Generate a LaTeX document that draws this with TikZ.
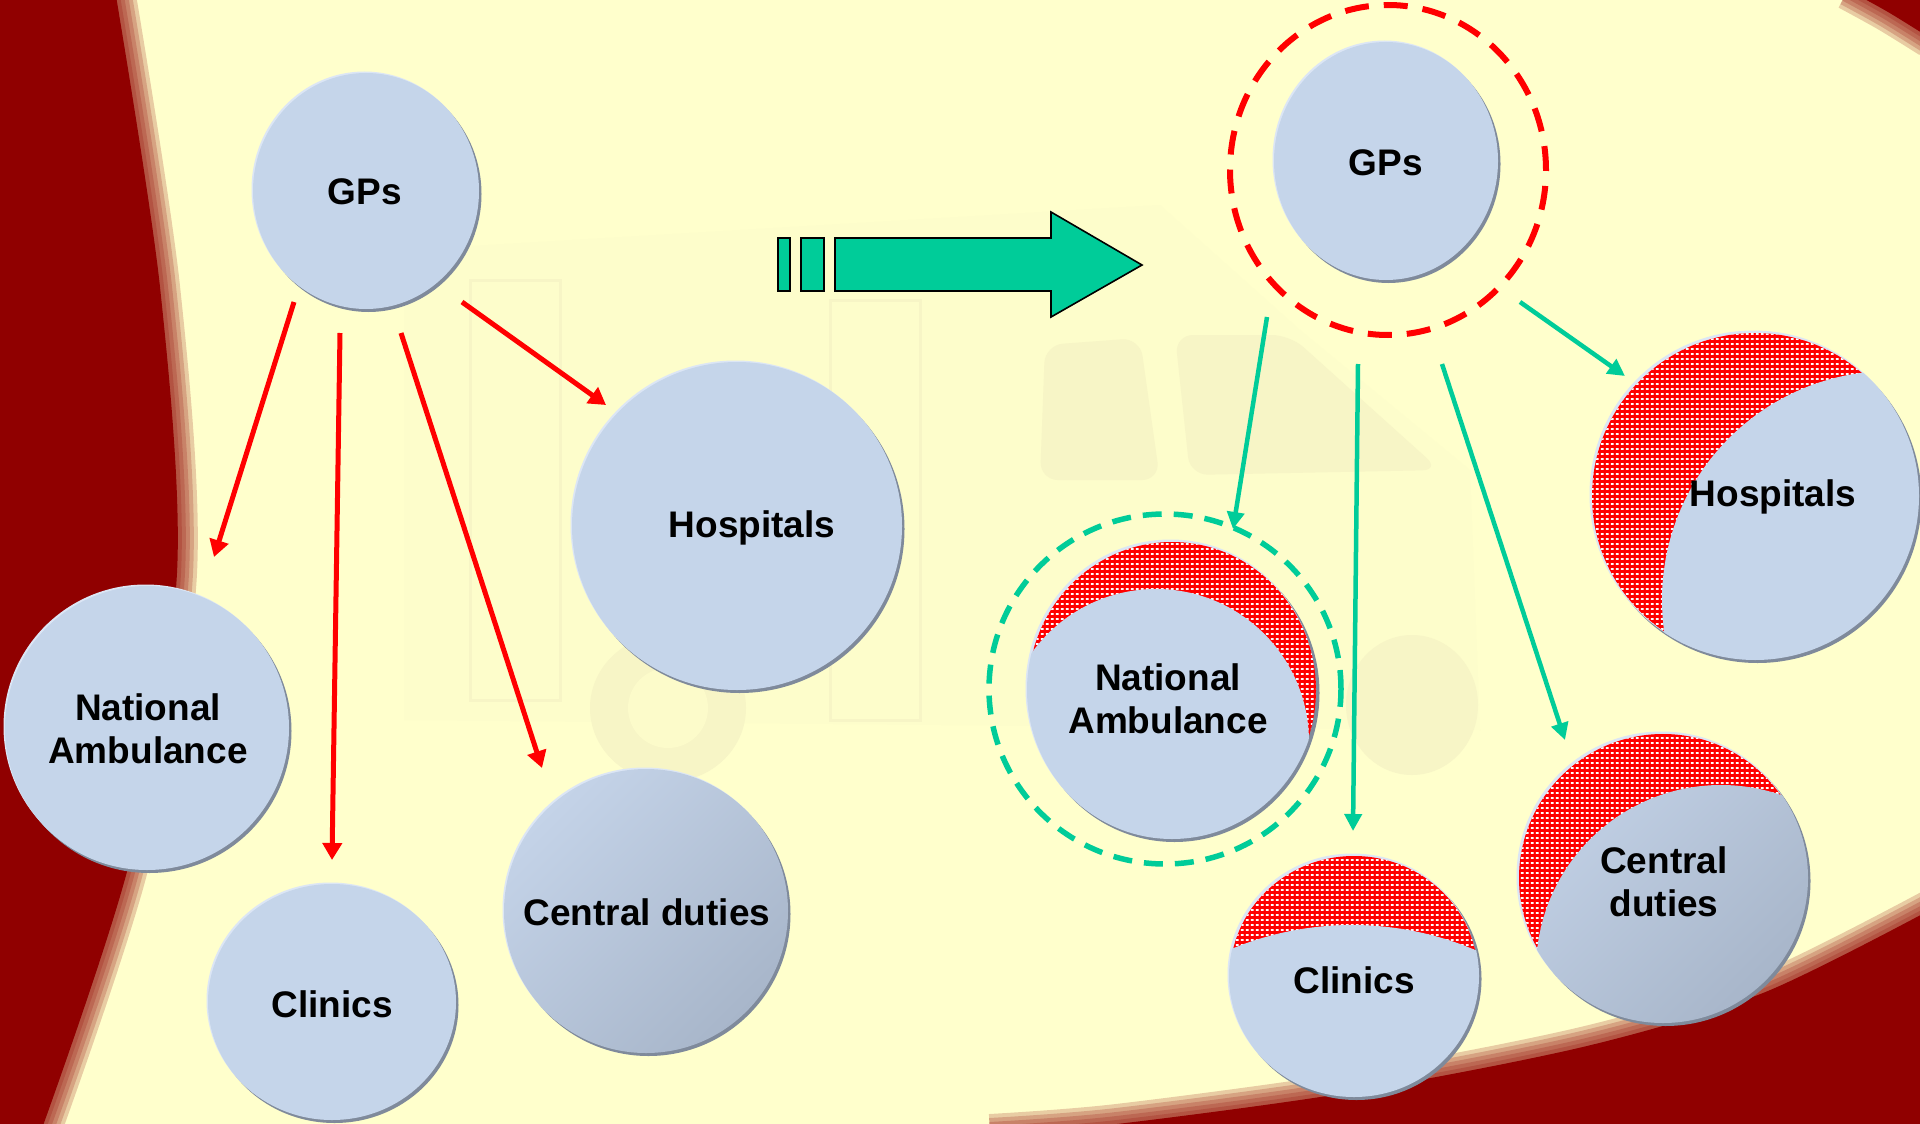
\documentclass[tikz,border=0pt]{standalone}
\usepackage{fontspec}
\setmainfont{Liberation Sans}
\usetikzlibrary{arrows.meta,patterns}
\definecolor{cream}{HTML}{FFFFCC}
\definecolor{bgred}{HTML}{900000}
\definecolor{bub}{HTML}{C5D5EA}
\definecolor{shadowc}{HTML}{7F8A9B}
\definecolor{rimc}{HTML}{DCE6F5}
\definecolor{cdlight}{HTML}{C4D3E8}
\definecolor{cddark}{HTML}{A8B6CA}
\definecolor{agreen}{HTML}{00CC99}
\definecolor{ared}{HTML}{FF0000}
\definecolor{wmark}{HTML}{F7F5C6}
\definecolor{wbody}{HTML}{FDFDCB}
\pgfdeclarepatternformonly{whitebricks}{\pgfqpoint{0pt}{0pt}}{\pgfqpoint{5pt}{4.5pt}}{\pgfqpoint{5pt}{4.5pt}}{\pgfpathrectangle{\pgfqpoint{0.9pt}{1.3pt}}{\pgfqpoint{3.3pt}{1.9pt}}\pgfusepath{fill}}
\newcommand\bubshadow[4]{\fill[shadowc,shift={(2.5,3)}] (#1,#2) ellipse [x radius=#3pt, y radius=#4pt];
  \fill[rimc,shift={(-1.5,-1.5)}] (#1,#2) ellipse [x radius=#3pt, y radius=#4pt];}
\newcommand\bubfill[4]{\fill[bub] (#1,#2) ellipse [x radius=#3pt, y radius=#4pt];}
\newcommand\blurline[1]{%
  \foreach \w in {40,32,24,16,8}{\draw[bgred,opacity=0.2,line width=\w pt] #1;}}
\begin{document}
\begin{tikzpicture}[x=1pt,y=-1pt,
  lbl/.style={font=\bfseries\fontsize{37}{43}\selectfont, align=center, text=black, inner sep=0pt},
  redarrow/.style={draw=ared, line width=5pt, -{Triangle[length=17pt,width=19pt]}},
  greenarrow/.style={draw=agreen, line width=4.5pt, -{Triangle[length=17pt,width=17pt]}},
  bigarrow/.style={fill=agreen, draw=black, line width=1.6pt, line join=miter},
  hatch/.style={fill=ared, postaction={pattern=whitebricks, pattern color=white}},
  reddash/.style={draw=ared, line width=6pt, dash pattern=on 24pt off 15pt},
  greendash/.style={draw=agreen, line width=5.5pt, dash pattern=on 19pt off 12pt}]
\useasboundingbox (0,0) rectangle (1920,1124);
\fill[cream] (0,0) rectangle (1920,1124);
% faint ambulance watermark
\fill[wbody] (404,250) -- (1160,205) -- (1300,330) -- (1470,470) -- (1480,730) -- (404,720) -- cycle;
\fill[wmark, rounded corners=18pt] (1045,345) -- (1140,338) -- (1160,480) -- (1040,480) -- cycle;
\fill[wmark, rounded corners=18pt] (1175,335) -- (1290,335) -- (1440,470) -- (1190,475) -- cycle;
\fill[wmark] (668,708) ellipse [x radius=78pt, y radius=74pt];
\fill[wmark] (1412,705) ellipse [x radius=66pt, y radius=70pt];
\fill[cream!60!wmark] (668,708) ellipse [x radius=40pt, y radius=40pt];
\draw[wmark, line width=3pt] (470,280) rectangle (560,700);
\draw[wmark, line width=3pt] (830,300) rectangle (920,720);
% dark red background areas
\fill[bgred] (0,-10) -- plot[smooth] coordinates {(115,-10) (160,287) (177,573) (130,860) (40,1134)} -- (0,1134) -- cycle;
\blurline{plot[smooth] coordinates {(115,-10) (160,287) (177,573) (130,860) (40,1134)}}
\fill[bgred] (1930,1134) -- plot[smooth] coordinates {(990,1134) (1117,1124) (1352,1092) (1587,1046) (1763,993) (1930,910)} -- cycle;
\blurline{plot[smooth] coordinates {(990,1134) (1117,1124) (1352,1092) (1587,1046) (1763,993) (1930,910)}}
\fill[bgred] (1930,-10) -- plot[smooth] coordinates {(1848,-10) (1888,12) (1930,38)} -- cycle;
\blurline{plot[smooth] coordinates {(1848,-10) (1888,12) (1930,38)}}

% ---------- left side ----------
\bubshadow{366}{191}{113}{118}\bubfill{366}{191}{113}{118}
\bubshadow{737}{526}{165}{164}\bubfill{737}{526}{165}{164}
\bubshadow{147}{728}{142}{142}\bubfill{147}{728}{142}{142}
\bubshadow{332}{1002}{124}{118}\bubfill{332}{1002}{124}{118}
\bubshadow{646}{911}{142}{142}
\shade[shading=axis, top color=cdlight, bottom color=cddark, shading angle=45] (646,911) ellipse [x radius=142pt, y radius=142pt];

\node[lbl] (gpL) at (365,192) {GPs};
\node[lbl] (hoL) at (752,528) {Hospitals};
\node[lbl] (naL) at (148,729) {National\\Ambulance};
\node[lbl] (clL) at (332,1004) {Clinics};
\node[lbl] (cdL) at (647,912) {Central duties};

\coordinate (a1s) at (294,302); \coordinate (a1e) at (214,557);
\coordinate (a2s) at (340,333); \coordinate (a2e) at (332,860);
\coordinate (a3s) at (401,333); \coordinate (a3e) at (542,768);
\coordinate (a4s) at (462,302); \coordinate (a4e) at (606,405);
\draw[redarrow] (a1s) -- (a1e);
\draw[redarrow] (a2s) -- (a2e);
\draw[redarrow] (a3s) -- (a3e);
\draw[redarrow] (a4s) -- (a4e);

% ---------- big arrow ----------
\draw[bigarrow] (778,238) rectangle (790,291);
\draw[bigarrow] (801,238) rectangle (824,291);
\draw[bigarrow] (835,238) -- (1051,238) -- (1051,212) -- (1142,265) -- (1051,317) -- (1051,291) -- (835,291) -- cycle;

% ---------- right side ----------
\bubshadow{1386}{161}{112}{119}\bubfill{1386}{161}{112}{119}
\draw[reddash] (1388,170) ellipse [x radius=158pt, y radius=165pt];

% Hospitals
\bubshadow{1755}{496}{164}{164}
\fill[hatch] (1755,496) ellipse [x radius=163pt, y radius=163pt];
\begin{scope}
\clip (1755,496) ellipse [x radius=164pt, y radius=164pt];
\fill[bub] (1891,600) circle [radius=229pt];
\end{scope}
% National Ambulance
\bubshadow{1172}{690}{145}{149}
\fill[hatch] (1172,690) ellipse [x radius=144pt, y radius=148pt];
\begin{scope}
\clip (1172,690) ellipse [x radius=145pt, y radius=149pt];
\fill[bub] (1156,742) circle [radius=153pt];
\end{scope}
\draw[greendash] (1165,689) ellipse [x radius=176pt, y radius=175pt];
% Clinics
\bubshadow{1354}{976}{125}{121}
\fill[hatch] (1354,976) ellipse [x radius=124pt, y radius=120pt];
\begin{scope}
\clip (1354,976) ellipse [x radius=125pt, y radius=121pt];
\fill[bub] (1352,1240) circle [radius=315pt];
\end{scope}
% Central duties
\bubshadow{1663}{878}{145}{145}
\fill[hatch] (1663,878) ellipse [x radius=144pt, y radius=144pt];
\begin{scope}
\clip (1721,970) circle [radius=185pt];
\shade[shading=axis, top color=cdlight, bottom color=cddark, shading angle=45] (1663,878) ellipse [x radius=145pt, y radius=145pt];
\end{scope}

\node[lbl] (gpR) at (1386,163) {GPs};
\node[lbl] (hoR) at (1773,497) {Hospitals};
\node[lbl] (naR) at (1168,699) {National\\Ambulance};
\node[lbl] (clR) at (1354,980) {Clinics};
\node[lbl] (cdR) at (1664,882) {Central\\duties};

\coordinate (g1s) at (1267,317); \coordinate (g1e) at (1233,529);
\coordinate (g2s) at (1358,364); \coordinate (g2e) at (1353,831);
\coordinate (g3s) at (1442,364); \coordinate (g3e) at (1565,740);
\coordinate (g4s) at (1520,302); \coordinate (g4e) at (1625,376);
\draw[greenarrow] (g1s) -- (g1e);
\draw[greenarrow] (g2s) -- (g2e);
\draw[greenarrow] (g3s) -- (g3e);
\draw[greenarrow] (g4s) -- (g4e);
\end{tikzpicture}
\end{document}
